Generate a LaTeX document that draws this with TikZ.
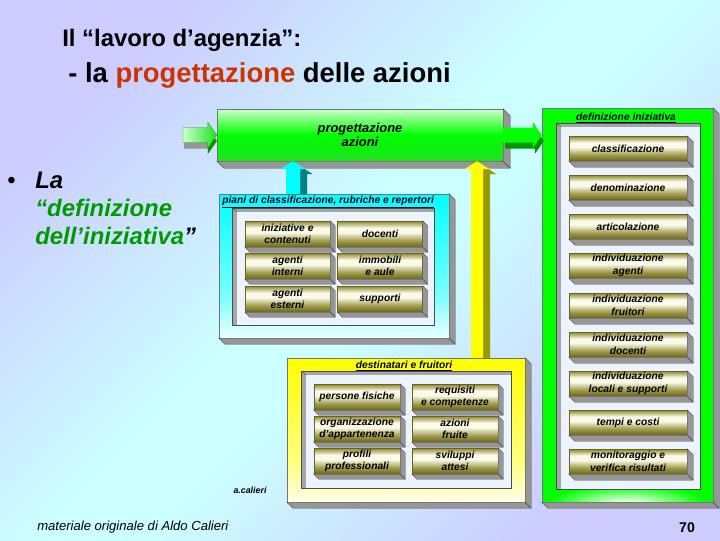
\documentclass[tikz,border=0pt]{standalone}
\usepackage{fontspec}
\setmainfont{Liberation Sans}
\usetikzlibrary{calc}
\definecolor{lav}{RGB}{204,204,255}
\definecolor{cy}{RGB}{204,255,255}
\definecolor{tred}{RGB}{204,51,0}
\definecolor{dgreen}{RGB}{0,153,0}
\definecolor{olvD}{RGB}{105,100,25}
\definecolor{olvM}{RGB}{165,160,80}
\definecolor{olvT}{RGB}{140,135,55}
\definecolor{olvL}{RGB}{250,250,235}
\definecolor{shd}{RGB}{150,150,150}
\definecolor{grn}{RGB}{0,255,0}
\definecolor{grnD}{RGB}{30,225,30}
\definecolor{lgrn}{RGB}{205,255,205}
\definecolor{shgrn}{RGB}{0,150,0}
\definecolor{inlight}{RGB}{236,245,255}
\definecolor{tealsh}{RGB}{0,128,128}
\definecolor{olvsh}{RGB}{153,153,0}
\definecolor{cyB}{RGB}{235,255,255}
\definecolor{cyM}{RGB}{120,255,255}
\definecolor{cyT}{RGB}{0,255,255}
\definecolor{yB}{RGB}{255,255,232}
\definecolor{yM}{RGB}{255,255,120}
\definecolor{yT}{RGB}{255,255,0}
\definecolor{titc}{RGB}{0,0,40}
\pgfdeclarehorizontalshading{bgdiag}{100bp}{color(0bp)=(lav); color(25bp)=(lav); color(47bp)=(cy); color(53bp)=(cy); color(75bp)=(lav); color(100bp)=(lav)}
\pgfdeclareverticalshading{olivebox}{100bp}{color(0bp)=(olvD); color(25bp)=(olvD); color(38bp)=(olvM); color(53bp)=(olvL); color(62bp)=(olvL); color(72bp)=(olvM); color(75bp)=(olvT); color(100bp)=(olvT)}
\pgfdeclareverticalshading{progsh}{100bp}{color(0bp)=(grnD); color(25bp)=(grnD); color(50bp)=(grn); color(75bp)=(lgrn); color(100bp)=(lgrn)}
\pgfdeclareverticalshading{cyansh}{100bp}{color(0bp)=(cyB); color(25bp)=(cyB); color(40bp)=(cyM); color(75bp)=(cyT); color(100bp)=(cyT)}
\pgfdeclareverticalshading{yelsh}{100bp}{color(0bp)=(yB); color(25bp)=(yB); color(40bp)=(yM); color(75bp)=(yT); color(100bp)=(yT)}
\newcommand\pxl{0.025cm}
\newcommand\ext[2]{%
  \filldraw[extr] (#1.south west) -- ($(#1.south west)+(#2,#2)$) -- ($(#1.south east)+(#2,#2)$) -- ($(#1.north east)+(#2,#2)$) -- (#1.north east) -- (#1.south east) -- cycle;
  \draw[extr] (#1.south east) -- ($(#1.south east)+(#2,#2)$);}
\newcommand\blkup[6]{\path[#6] (#1) -- ($(#1)+(#4,#5)$) -- ($(#1)+(#3,#5)$) -- ($(#2)+(#3,0)$) -- ($(#2)+(-#3,0)$) -- ($(#1)+(-#3,#5)$) -- ($(#1)+(-#4,#5)$) -- cycle;}
\newcommand\blkright[6]{\path[#6] (#2) -- ($(#2)+(-#5,-#4)$) -- ($(#2)+(-#5,-#3)$) -- ($(#1)+(0,-#3)$) -- ($(#1)+(0,#3)$) -- ($(#2)+(-#5,#3)$) -- ($(#2)+(-#5,#4)$) -- cycle;}
\begin{document}
\begin{tikzpicture}[x=0.025cm,y=-0.025cm,
  extr/.style={fill=shd,draw=black!75,line width=0.3pt},
  itxt/.style={font=\fontsize{7.3}{8.9}\selectfont\bfseries\itshape,align=center,text=black},
  obx/.style={itxt,shade,shading=olivebox,draw=olvD,line width=0.3pt,inner sep=0pt},
  obA/.style={obx,minimum width=85*\pxl,minimum height=26*\pxl},
  obB/.style={obx,minimum width=86*\pxl,minimum height=26*\pxl},
  obC/.style={obx,minimum width=118*\pxl,minimum height=25*\pxl},
  panel/.style={draw=black!55,line width=0.3pt,inner sep=0pt},
  ptitle/.style={font=\fontsize{7.3}{8.9}\selectfont\bfseries\itshape,text=titc,inner sep=0pt},
  bigit/.style={font=\fontsize{17}{20}\selectfont\bfseries\itshape,inner sep=0pt},
  inframe/.style={fill=shd!85,draw=black!70,line width=0.3pt},
  inlt/.style={fill=inlight}
]
\useasboundingbox (0,0) rectangle (720,540);
\shade[shading=bgdiag,shading angle=-45] (0,0) rectangle (720,540);

% titles
\node[anchor=base west,inner sep=0pt,font=\fontsize{17}{20}\selectfont\bfseries] (t1) at (62,46) {Il “lavoro d’agenzia”:};
\node[anchor=base west,inner sep=0pt,font=\fontsize{19.5}{23}\selectfont\bfseries] (t2) at (68,82) {- la \textcolor{tred}{progettazione} delle azioni};

% bullet
\node[anchor=base west,inner sep=0pt,font=\fontsize{17}{20}\selectfont] (bl) at (7,188) {•};
\node[bigit,anchor=base west] (la) at (35,188) {La};
\node[bigit,anchor=base west,text=dgreen] (def1) at (35,216) {“definizione};
\node[bigit,anchor=base west] (def2) at (35,244) {\textcolor{dgreen}{dell’iniziativa}”};

% ---------- piani panel
\node[panel,shade,shading=cyansh,minimum width=230*\pxl,minimum height=144*\pxl] (piani) at (334,266) {};
\ext{piani}{6}
\filldraw[inframe] (232,208) rectangle (434,325);
\fill[inlt] (237,212) rectangle (433.5,324.5);
\draw[black!70,line width=0.3pt] (232,208) -- (237,212);
\node[ptitle,anchor=west] (pianiT) at (222,202) {\underline{piani di classificazione, rubriche e repertori}};
\node[obA] (p11) at (287.5,234) {iniziative e\\contenuti};
\node[obA] (p12) at (380,234) {docenti};
\node[obA] (p21) at (287.5,266) {agenti\\interni};
\node[obA] (p22) at (380,266) {immobili\\e aule};
\node[obA] (p31) at (287.5,299) {agenti\\esterni};
\node[obA] (p32) at (380,299) {supporti};
\foreach \n in {p11,p12,p21,p22,p31,p32} {\ext{\n}{5}}

% ---------- destinatari panel
\node[panel,shade,shading=yelsh,minimum width=238*\pxl,minimum height=144*\pxl] (dest) at (406,430) {};
\ext{dest}{6}
\filldraw[inframe] (301,371) rectangle (511,488);
\fill[inlt] (306,375) rectangle (510.5,487.5);
\draw[black!70,line width=0.3pt] (301,371) -- (306,375);
\node[ptitle] (destT) at (404,366) {\underline{destinatari e fruitori}};
\node[obB] (d11) at (357,397) {persone fisiche};
\node[obB] (d12) at (455,397) {requisiti\\e competenze};
\node[obB] (d21) at (357,429) {organizzazione\\d’appartenenza};
\node[obB] (d22) at (455,429) {azioni\\fruite};
\node[obB] (d31) at (357,461) {profili\\professionali};
\node[obB] (d32) at (455,461) {sviluppi\\attesi};
\foreach \n in {d11,d12,d21,d22,d31,d32} {\ext{\n}{5}}

% ---------- definizione panel
\node[panel,fill=grn,minimum width=171*\pxl,minimum height=394*\pxl] (defin) at (627.5,305) {};
\ext{defin}{6}
\begin{scope}
  \clip (543,489) rectangle (712.5,501.5);
  \shade[inner color=white,outer color=grn] (627,503) ellipse [x radius=80,y radius=18];
\end{scope}
\filldraw[inframe] (556,123) rectangle (700,489);
\fill[inlt] (561,127) rectangle (699.5,488.5);
\draw[black!70,line width=0.3pt] (556,123) -- (561,127);
\node[ptitle] (definT) at (626,118) {\underline{definizione iniziativa}};
\node[obC] (r1) at (628,148.5) {classificazione};
\node[obC] (r2) at (628,187.5) {denominazione};
\node[obC] (r3) at (628,226.5) {articolazione};
\node[obC] (r4) at (628,265.5) {individuazione\\agenti};
\node[obC] (r5) at (628,305.5) {individuazione\\fruitori};
\node[obC] (r6) at (628,344.5) {individuazione\\docenti};
\node[obC] (r7) at (628,383.5) {individuazione\\locali e supporti};
\node[obC] (r8) at (628,422.5) {tempi e costi};
\node[obC] (r9) at (628,461.5) {monitoraggio e\\verifica risultati};
\foreach \n in {r1,r2,r3,r4,r5,r6,r7,r8,r9} {\ext{\n}{6}}

% ---------- progettazione
\node[panel,shade,shading=progsh,minimum width=286*\pxl,minimum height=52*\pxl,
      font=\fontsize{9.2}{10.3}\selectfont\bfseries\itshape,align=center] (prog) at (360,135) {progettazione\\azioni};
\ext{prog}{7}

% ---------- block arrows
% input arrow
\coordinate (inL) at (183,135);
\coordinate (inLs) at ($(inL)+(1,6)$);
\coordinate (inTs) at ($(prog.west)+(0,6)$);
\blkright{inLs}{inTs}{7.5}{13}{9}{fill=shd}
\path[fill=shgrn] (inTs) -- ($(inTs)+(-9,-13)$) -- ($(inTs)+(-9,13)$) -- cycle;
\blkright{inL}{prog.west}{7.5}{13}{9}{left color=lgrn,right color=grnD,draw=grnD!70!black,line width=0.2pt}
% output arrow
\coordinate (outT) at (defin.west |- prog.east);
\coordinate (outLs) at ($(prog.east)+(2,6)$);
\coordinate (outTs) at ($(outT)+(2,6)$);
\blkright{outLs}{outTs}{7.5}{13}{9}{fill=shgrn}
\blkright{prog.east}{outT}{7.5}{13}{9}{fill=grn}
% cyan arrow
\coordinate (cyX) at (293,0);
\coordinate (cyTip) at (prog.south -| cyX);
\coordinate (cyBase) at (piani.north -| cyX);
\coordinate (cyTipS) at ($(cyTip)+(7,5)$);
\coordinate (cyBaseS) at ($(cyBase)+(7,0)$);
\blkup{cyTipS}{cyBaseS}{7}{13}{8}{fill=tealsh}
\blkup{cyTip}{cyBase}{7}{13}{8}{fill=cyT}
% yellow arrow
\coordinate (yX) at (477,0);
\coordinate (yTip) at (prog.south -| yX);
\coordinate (yBase) at (dest.north -| yX);
\coordinate (yTipS) at ($(yTip)+(7,5)$);
\coordinate (yBaseS) at ($(yBase)+(7,0)$);
\blkup{yTipS}{yBaseS}{6}{12.5}{8}{fill=olvsh}
\blkup{yTip}{yBase}{6}{12.5}{8}{fill=yT}

% footer
\node[font=\fontsize{6.3}{7}\selectfont\bfseries\itshape,inner sep=0pt] (sig) at (250,490) {a.calieri};
\node[anchor=west,inner sep=0pt,font=\fontsize{9.3}{11}\selectfont\itshape] (foot) at (37,527) {materiale originale di Aldo Calieri};
\node[inner sep=0pt,font=\fontsize{10}{12}\selectfont\bfseries] (pg) at (687,528) {70};
\end{tikzpicture}
\end{document}
